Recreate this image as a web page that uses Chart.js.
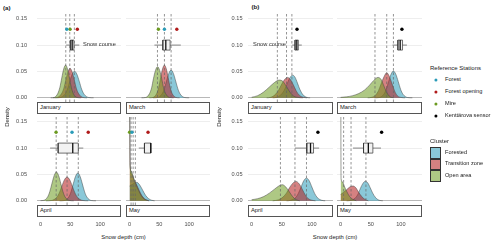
<!DOCTYPE html>
<html>
<head>
<meta charset="utf-8">
<script src="https://cdn.jsdelivr.net/npm/chart.js@4.4.1/dist/chart.umd.min.js"></script>
<style>
  body { margin: 0; background: #fff; }
  #fig { position: relative; width: 500px; height: 247px; overflow: hidden;
         font-family: "Liberation Sans", Arial, sans-serif; color: #1a1a1a; }
  #fig canvas { position: absolute; }
  .t { position: absolute; white-space: nowrap; line-height: 1; }
  .strip { position: absolute; box-sizing: border-box; border: 0.8px solid #555; background: #fff; }
  .dot { position: absolute; width: 3.2px; height: 3.2px; border-radius: 50%; transform: translate(-50%, -50%); }
  .key { position: absolute; box-sizing: border-box; border: 0.8px solid #333; width: 11px; height: 11.5px; }
</style>
</head>
<body>
<div id="fig"></div>
<script>
// ---- data ----
const xTicks = [0, 50, 100];
const yTicks = [0, 0.05, 0.10, 0.15];
const months = ['January', 'March', 'April', 'May'];

// density curves, [snow depth (cm), density]
const aJanOpen = [[17,0],[23,0.0006],[29,0.0084],[32.4,0.0198],[35.6,0.0378],[38.8,0.0546],[42,0.062],[45.2,0.0546],[48.4,0.0378],[51.6,0.0198],[54.8,0.0084],[61,0.0006],[68,0]];
const aJanTransition = [[21,0],[28,0.0006],[35,0.0076],[39,0.018],[42.4,0.034],[46,0.049],[49.5,0.056],[53,0.049],[56.6,0.034],[60,0.018],[64,0.0076],[71,0.0006],[78,0]];
const aJanForested = [[25,0],[33,0.0005],[41,0.0068],[45,0.016],[49,0.031],[53,0.0445],[57,0.0505],[61,0.0445],[65,0.031],[69,0.016],[73,0.0068],[81,0.0005],[89,0]];

const aMarOpen = [[20,0],[27,0.0006],[33.5,0.008],[37,0.019],[40,0.036],[43.5,0.052],[47,0.059],[50.5,0.052],[54,0.036],[57,0.019],[60.5,0.008],[67,0.0006],[74,0]];
const aMarTransition = [[33,0],[39.3,0.0006],[45.7,0.0084],[48.9,0.0198],[52.1,0.0378],[55.3,0.0546],[58.5,0.062],[61.7,0.0546],[64.9,0.0378],[68.1,0.0198],[71.3,0.0084],[77.7,0.0006],[84,0]];
const aMarForested = [[39,0],[47,0.0005],[54.5,0.0071],[58.3,0.0168],[62.1,0.032],[65.9,0.0463],[69.7,0.0526],[73.5,0.0463],[77.3,0.032],[81.1,0.0168],[84.9,0.0071],[92.5,0.0005],[100,0]];

const aAprOpen = [[0,0.0003],[4.6,0.0006],[11.9,0.0074],[15.5,0.0175],[19.2,0.0333],[22.9,0.048],[26.5,0.0546],[30.2,0.048],[33.8,0.0333],[37.5,0.0175],[41.1,0.0074],[48.4,0.0006],[55.7,0]];
const aAprTransition = [[9,0],[17.8,0.0005],[26.7,0.0061],[31.2,0.0144],[35.6,0.0273],[40,0.0396],[44.5,0.045],[49,0.0396],[53.4,0.0273],[57.9,0.0144],[62.3,0.0061],[71.2,0.0005],[80,0]];
const aAprForested = [[32,0],[39.7,0.0005],[47.3,0.0071],[51.1,0.0169],[54.9,0.0321],[58.7,0.0464],[62.5,0.0527],[66.3,0.0464],[70.1,0.0321],[73.9,0.0169],[77.7,0.0071],[85.3,0.0005],[93,0]];

const aMayOpen = [[0,0.4],[0.8,0.07],[3,0.056],[6,0.045],[10,0.033],[15,0.02],[20,0.009],[25,0.003],[32,0]];
const aMayTransition = [[0,0.2],[1.2,0.062],[4,0.05],[8,0.039],[12,0.03],[16,0.02],[21,0.009],[26,0.003],[33,0]];
const aMayForested = [[0,0.028],[3,0.03],[7,0.033],[12,0.035],[17,0.03],[22,0.02],[27,0.01],[32,0.004],[37,0.001],[42,0]];

const bJanOpen = [[0,0.001],[10,0.004],[20,0.011],[30,0.021],[38,0.029],[46,0.0336],[52,0.031],[58,0.021],[64,0.01],[70,0.003],[78,0.0005],[85,0]];
const bJanTransition = [[25,0],[32,0.001],[40,0.007],[45,0.015],[50,0.026],[55,0.035],[59.5,0.0387],[64,0.035],[69,0.025],[74,0.013],[79,0.005],[86,0.001],[92,0]];
const bJanForested = [[35,0],[42,0.001],[48,0.005],[54,0.014],[58,0.024],[63,0.037],[68,0.043],[72,0.039],[76,0.028],[80,0.016],[85,0.006],[91,0.001],[97,0]];

const bMarOpen = [[0,0.0008],[10,0.0018],[20,0.004],[30,0.008],[40,0.015],[48,0.024],[55,0.033],[62,0.0387],[67,0.035],[72,0.022],[77,0.009],[82,0.002],[88,0]];
const bMarTransition = [[45,0],[52,0.001],[58,0.005],[63,0.014],[67,0.026],[72,0.04],[76.5,0.0475],[81,0.04],[85.5,0.026],[89.5,0.013],[94,0.004],[101,0.0005],[107,0]];
const bMarForested = [[56,0],[64,0.0005],[71.8,0.0068],[75.7,0.016],[79.7,0.031],[83.6,0.0445],[87.6,0.0507],[91.6,0.0445],[95.5,0.031],[99.5,0.016],[103.4,0.0068],[111,0.0005],[119,0]];

const bAprOpen = [[0,0.002],[10,0.004],[20,0.008],[30,0.015],[38,0.022],[45,0.028],[51,0.0305],[56,0.027],[62,0.018],[68,0.008],[74,0.002],[80,0]];
const bAprTransition = [[35,0],[45,0.002],[52,0.007],[58,0.015],[63,0.025],[68,0.033],[73.5,0.0368],[79,0.032],[84,0.022],[89,0.011],[94,0.004],[100,0.001],[106,0]];
const bAprForested = [[58,0],[65,0.001],[73,0.006],[77.5,0.014],[82,0.026],[86.5,0.038],[91,0.043],[95.5,0.038],[100,0.026],[104.5,0.014],[109,0.006],[116,0.001],[122,0]];

const bMayOpen = [[0,0.4],[0.8,0.042],[3,0.036],[6,0.028],[10,0.018],[15,0.008],[20,0.003],[26,0]];
const bMayTransition = [[0,0.012],[5,0.016],[10,0.021],[15,0.026],[20.5,0.028],[25,0.025],[30,0.016],[35,0.008],[40,0.003],[46,0]];
const bMayForested = [[10,0],[18,0.001],[24,0.005],[29,0.013],[33,0.024],[37,0.033],[41,0.037],[45,0.034],[49,0.025],[53,0.015],[58,0.006],[64,0.001],[70,0]];

// cluster means (dashed lines), per month
const aMeans = [[42.3, 49, 56.7], [46.8, 58.5, 69.7], [26.2, 44.5, 63.3], [2.5, 6, 9.7]];
const bMeans = [[42.7, 57.9, 66.8], [57, 76.5, 87.6], [47.8, 71.9, 91], [5, 17.3, 42]];

// snow course: [lower whisker, q1, median, q3, upper whisker]
const aSnowCourse = [[43, 50, 53, 56, 65], [41.7, 55.8, 60.8, 68, 86], [16, 29.5, 54, 63.3, 71.7], [15.5, 25, 35.5, 36, 36]];
const bSnowCourse = [[67.3, 72, 75, 77.5, 83.2], [86, 95, 98.8, 102.7, 110], [71.9, 91.5, 97.7, 102.7, 112], [20.6, 38, 46, 53.5, 67]];

// reference stations, per month
const forestRef = [44, 58.5, 52.8, 4];
const forestOpeningRef = [61.7, 79.3, 80, 31];
const mireRef = [49.5, 48.4, 26, 0];
const sensorRef = [75.3, 101.7, 110, 68];

// ---- styling ----
const FONT = '"Liberation Sans", Arial, sans-serif';
Chart.defaults.font.family = FONT;
const ALPHA = 0.55;
const forestedCol = [42, 155, 184];
const transitionCol = [178, 26, 26];
const openCol = [107, 154, 31];
const stationCols = { 'Forest': '#2a9bb8', 'Forest opening': '#b01a1a', 'Mire': '#6b9a1f', 'Kenttärova sensor': '#000000' };
const rgba = (c, a) => `rgba(${c[0]},${c[1]},${c[2]},${a})`;

const X_MIN = -6, X_MAX = 135, Y_MIN = -0.008, Y_MAX = 0.159;
const BOX_H = 0.0095, REF_Y = 0.13, BOX_Y = 0.10;

const fig = document.getElementById('fig');

function addText(txt, x, y, o = {}) {
  const d = document.createElement('div');
  d.className = 't';
  d.textContent = txt;
  d.style.left = x + 'px';
  d.style.top = y + 'px';
  d.style.fontSize = (o.size || 5.8) + 'px';
  if (o.bold) d.style.fontWeight = 'bold';
  if (o.color) d.style.color = o.color;
  const ax = o.align === 'right' ? '-100%' : o.align === 'center' ? '-50%' : '0';
  d.style.transform = `translate(${ax},-50%)` + (o.rotate ? ` rotate(${o.rotate}deg)` : '');
  fig.appendChild(d);
}

const pts = arr => arr.map(p => ({ x: p[0], y: p[1] }));
const line = (data, style) => Object.assign({ data, pointRadius: 0, fill: false, clip: 0, borderWidth: 0.7 }, style);

function panel(p) {
  const [cl, cr] = p.col;
  const [rt, rb] = p.row;
  const yW = p.showY ? p.yAxisW : 0;
  const xH = p.showX ? 28 : 0;
  const w = cr - cl + yW, h = rb - rt + xH;
  const cv = document.createElement('canvas');
  cv.width = w; cv.height = h;
  cv.style.left = (cl - yW) + 'px';
  cv.style.top = rt + 'px';
  cv.style.width = w + 'px';
  cv.style.height = h + 'px';
  fig.appendChild(cv);

  const [wlo, q1, med, q3, whi] = p.box;
  const datasets = [];
  // reference station points
  p.refs.forEach(r => datasets.push({
    data: [{ x: r.x, y: REF_Y }], showLine: false, pointRadius: 1.7,
    pointBackgroundColor: stationCols[r.name], pointBorderWidth: 0, clip: 0
  }));
  // boxplot
  datasets.push(line([{ x: med, y: BOX_Y - BOX_H }, { x: med, y: BOX_Y + BOX_H }], { borderColor: '#111', borderWidth: 1.3 }));
  datasets.push(line([{ x: q1, y: BOX_Y - BOX_H }, { x: q3, y: BOX_Y - BOX_H }, { x: q3, y: BOX_Y + BOX_H },
                      { x: q1, y: BOX_Y + BOX_H }, { x: q1, y: BOX_Y - BOX_H }], { borderColor: '#333', borderWidth: 0.7 }));
  datasets.push(line([{ x: q1, y: BOX_Y + BOX_H }, { x: q3, y: BOX_Y + BOX_H }],
                     { borderWidth: 0, fill: { value: BOX_Y - BOX_H }, backgroundColor: '#f2f2f2' }));
  datasets.push(line([{ x: wlo, y: BOX_Y }, { x: q1, y: BOX_Y }], { borderColor: '#666', borderWidth: 0.8 }));
  datasets.push(line([{ x: q3, y: BOX_Y }, { x: whi, y: BOX_Y }], { borderColor: '#666', borderWidth: 0.8 }));
  // cluster means
  p.means.forEach(m => datasets.push(line([{ x: m, y: Y_MIN }, { x: m, y: Y_MAX }],
                     { borderColor: '#666', borderWidth: 0.7, borderDash: [2.5, 2] })));
  // densities (open area on top)
  [[p.open, openCol], [p.transition, transitionCol], [p.forested, forestedCol]].forEach(([d, c]) =>
    datasets.push(line(pts(d), {
      fill: 'origin', backgroundColor: rgba(c, ALPHA), borderColor: 'rgba(70,70,70,0.85)',
      borderWidth: 0.6, cubicInterpolationMode: 'monotone'
    })));

  new Chart(cv, {
    type: 'line',
    data: { datasets },
    options: {
      responsive: false, animation: false, devicePixelRatio: 1, events: [],
      layout: { padding: 0, autoPadding: false },
      plugins: { legend: { display: false }, tooltip: { enabled: false } },
      scales: {
        x: {
          type: 'linear', min: X_MIN, max: X_MAX, display: p.showX,
          grid: { display: false, drawTicks: false }, border: { display: false },
          ticks: { padding: 16, color: '#4d4d4d', font: { size: 5.6 } },
          afterBuildTicks: s => { s.ticks = xTicks.map(v => ({ value: v })); },
          afterFit: s => { s.height = xH; s.paddingLeft = 0; s.paddingRight = 0; }
        },
        y: {
          type: 'linear', min: Y_MIN, max: Y_MAX,
          grid: { color: c => c.tick.value === 0 ? '#9a9a9a' : '#e6e6e6', lineWidth: 0.7, drawTicks: false },
          border: { display: false },
          ticks: { display: p.showY, padding: p.yPad, color: '#4d4d4d', font: { size: 5.6 },
                   callback: v => v.toFixed(2) },
          afterBuildTicks: s => { s.ticks = yTicks.map(v => ({ value: v })); },
          afterFit: s => { s.width = yW; s.paddingTop = 0; s.paddingBottom = 0; }
        }
      }
    }
  });

  // strip label under the panel
  const st = document.createElement('div');
  st.className = 'strip';
  const sTop = rb + 0.3;
  st.style.left = cl + 'px'; st.style.top = sTop + 'px';
  st.style.width = (cr - cl) + 'px'; st.style.height = '11.5px';
  fig.appendChild(st);
  addText(p.month, cl + 3, sTop + 5.9, { size: 5.8 });
}

// ---- layout ----
const colsA = [[37, 121], [126, 210]];
const colsB = [[248, 333], [337, 422]];
const rows = [[14, 102], [117, 205]];

const aCurves = [[aJanOpen, aJanTransition, aJanForested], [aMarOpen, aMarTransition, aMarForested],
                 [aAprOpen, aAprTransition, aAprForested], [aMayOpen, aMayTransition, aMayForested]];
const bCurves = [[bJanOpen, bJanTransition, bJanForested], [bMarOpen, bMarTransition, bMarForested],
                 [bAprOpen, bAprTransition, bAprForested], [bMayOpen, bMayTransition, bMayForested]];

months.forEach((m, i) => {
  const c = i % 2, r = Math.floor(i / 2);
  panel({
    month: m, col: colsA[c], row: rows[r], showY: c === 0, showX: r === 1, yAxisW: 36, yPad: 10,
    open: aCurves[i][0], transition: aCurves[i][1], forested: aCurves[i][2],
    means: aMeans[i], box: aSnowCourse[i],
    refs: [{ name: 'Forest', x: forestRef[i] }, { name: 'Forest opening', x: forestOpeningRef[i] }, { name: 'Mire', x: mireRef[i] }]
  });
  panel({
    month: m, col: colsB[c], row: rows[r], showY: c === 0, showX: r === 1, yAxisW: 36, yPad: 5.5,
    open: bCurves[i][0], transition: bCurves[i][1], forested: bCurves[i][2],
    means: bMeans[i], box: bSnowCourse[i],
    refs: [{ name: 'Kenttärova sensor', x: sensorRef[i] }]
  });
});

// ---- annotations & axis titles ----
addText('(a)', 3, 7.5, { size: 6.2, bold: true });
addText('(b)', 251.5, 7, { size: 6.2, bold: true });
addText('Snow course', 83, 45, { size: 5.7, color: '#333' });
addText('Snow course', 286, 45, { size: 5.7, color: '#333', align: 'right' });
addText('Density', 8, 117, { size: 5.9, align: 'center', rotate: -90 });
addText('Density', 219.5, 117, { size: 5.9, align: 'center', rotate: -90 });
addText('Snow depth (cm)', 123.5, 238, { size: 5.9, align: 'center' });
addText('Snow depth (cm)', 335, 238, { size: 5.9, align: 'center' });

// ---- legends ----
addText('Reference Stations', 430, 67.7, { size: 6 });
Object.keys(stationCols).forEach((name, k) => {
  const y = 80 + k * 12;
  const d = document.createElement('div');
  d.className = 'dot';
  d.style.left = '436px'; d.style.top = y + 'px';
  d.style.background = stationCols[name];
  fig.appendChild(d);
  addText(name, 445, y, { size: 5.6 });
});

addText('Cluster', 430, 140.5, { size: 6 });
[['Forested', forestedCol], ['Transition zone', transitionCol], ['Open area', openCol]].forEach(([name, c], k) => {
  const top = 147 + k * 11.5;
  const d = document.createElement('div');
  d.className = 'key';
  d.style.left = '430px'; d.style.top = top + 'px';
  d.style.background = rgba(c, ALPHA);
  fig.appendChild(d);
  addText(name, 445, top + 5.8, { size: 5.6 });
});
</script>
</body>
</html>
